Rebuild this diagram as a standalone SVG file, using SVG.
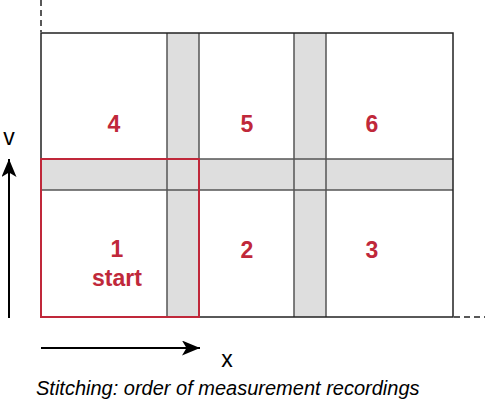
<svg xmlns="http://www.w3.org/2000/svg" width="485" height="405" viewBox="0 0 485 405">
<defs>
<style>
.bandfill{fill:#dedede;stroke:none}
.bandline{stroke:#555;stroke-width:1.5;fill:none}
.frame{fill:none;stroke:#222;stroke-width:1.5}
.num{font-family:"Liberation Sans",Arial,sans-serif;font-weight:bold;font-size:23px;fill:#c0283a;text-anchor:middle}
.lbl{font-family:"Liberation Sans",Arial,sans-serif;font-size:23px;fill:#000;text-anchor:middle}
.dash{stroke:#222;stroke-width:1.5;stroke-dasharray:6,4;fill:none}
</style>
<marker id="ah" viewBox="0 0 18 15" refX="18" refY="7.5" markerWidth="18" markerHeight="15" orient="auto" markerUnits="userSpaceOnUse">
<path d="M0,0 L18,7.5 L0,15 L4.5,7.5 z" fill="#000"/>
</marker>
</defs>
<rect x="0" y="0" width="485" height="405" fill="#fff"/>
<g id="grid">
<rect x="41" y="33" width="412" height="284" fill="#fff" stroke="none"/>
<rect class="bandfill" x="167" y="33" width="32" height="284"/>
<rect class="bandfill" x="294" y="33" width="32" height="284"/>
<rect class="bandfill" x="41" y="159" width="412" height="31"/>
<line class="bandline" x1="167" y1="33" x2="167" y2="317"/>
<line class="bandline" x1="199" y1="33" x2="199" y2="317"/>
<line class="bandline" x1="294" y1="33" x2="294" y2="317"/>
<line class="bandline" x1="326" y1="33" x2="326" y2="317"/>
<line class="bandline" x1="41" y1="159" x2="453" y2="159"/>
<line class="bandline" x1="41" y1="190" x2="453" y2="190"/>
<rect class="frame" x="41" y="33" width="412" height="284"/>
</g>
<g id="tile1">
<rect x="41" y="159" width="158" height="158" fill="none" stroke="#c0283a" stroke-width="2"/>
<text class="num" x="117" y="257">1</text>
<text class="num" x="117" y="286">start</text>
</g>
<g id="tile2"><text class="num" x="247" y="258">2</text></g>
<g id="tile3"><text class="num" x="372" y="258">3</text></g>
<g id="tile4"><text class="num" x="114" y="132">4</text></g>
<g id="tile5"><text class="num" x="247" y="132">5</text></g>
<g id="tile6"><text class="num" x="372" y="132">6</text></g>
<g id="connectors">
<line class="dash" x1="41" y1="0" x2="41" y2="32"/>
<line class="dash" x1="454" y1="317" x2="485" y2="317"/>
<line x1="9" y1="318" x2="9" y2="159" stroke="#000" stroke-width="2" marker-end="url(#ah)"/>
<line x1="41" y1="348" x2="200" y2="348" stroke="#000" stroke-width="2" marker-end="url(#ah)"/>
</g>
<g id="labels">
<text class="lbl" x="9" y="145">v</text>
<text class="lbl" x="227" y="367">x</text>
<text x="36" y="395" font-family="'Liberation Sans',Arial,sans-serif" font-style="italic" font-size="20" fill="#000">Stitching: order of measurement recordings</text>
</g>
</svg>
